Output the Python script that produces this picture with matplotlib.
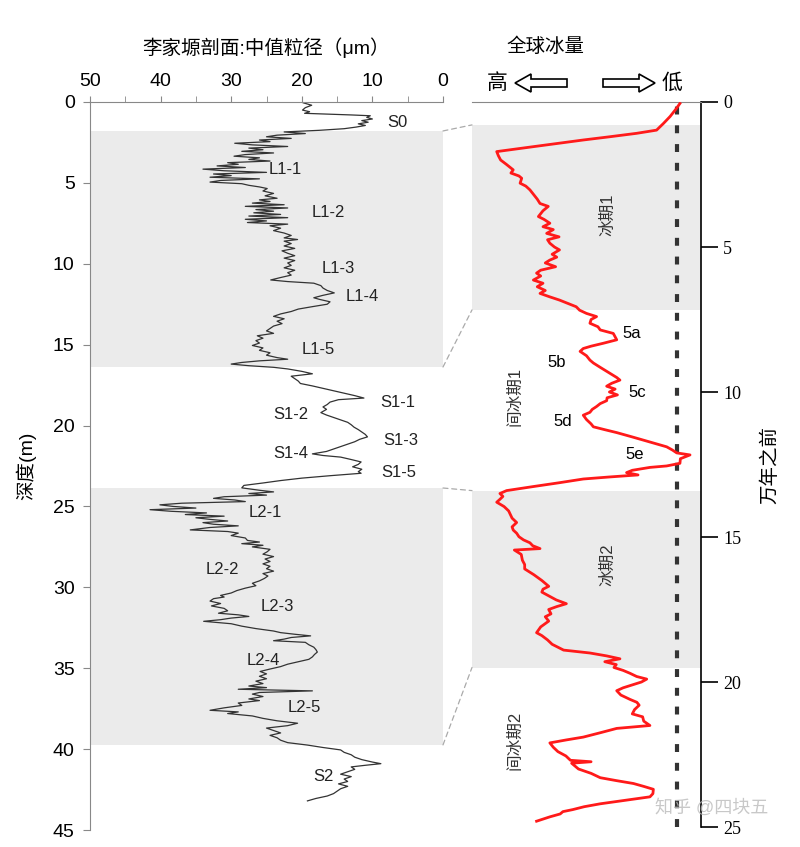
import numpy as np
import matplotlib
matplotlib.use("Agg")
from matplotlib import pyplot as plt
from matplotlib.patches import FancyArrow, ConnectionPatch

plt.rcParams["font.family"] = ["Liberation Sans", "Noto Sans CJK SC", "DejaVu Sans"]

# Li Jiayuan section: depth (m) vs median grain size (um)
depth = [0.05, 0.2, 0.35, 0.5, 0.6, 0.7, 0.8, 0.85, 0.95, 1.05, 1.15, 1.25, 1.35, 1.45, 1.55, 1.65, 1.75,
         1.85, 1.95, 2.05, 2.15, 2.25, 2.35, 2.45, 2.55, 2.65, 2.75, 2.85, 2.95, 3.05, 3.15, 3.25, 3.35, 3.45,
         3.55, 3.65, 3.75, 3.85, 3.95, 4.05, 4.15, 4.25, 4.35, 4.45, 4.55, 4.65, 4.75, 4.85, 4.95, 5.05, 5.15,
         5.25, 5.35, 5.5, 5.65, 5.8, 5.95, 6.05, 6.15, 6.25, 6.35, 6.45, 6.55, 6.65, 6.75, 6.85, 6.95, 7.05,
         7.15, 7.25, 7.35, 7.45, 7.55, 7.65, 7.8, 7.95, 8.1, 8.25, 8.4, 8.5, 8.6, 8.75, 8.9, 9.05, 9.2, 9.35,
         9.5, 9.65, 9.8, 9.95, 10.1, 10.25, 10.4, 10.55, 10.7, 10.85, 11.0, 11.1, 11.2, 11.35, 11.5, 11.65,
         11.8, 11.95, 12.1, 12.2, 12.35, 12.5, 12.65, 12.8, 12.95, 13.1, 13.25, 13.4, 13.55, 13.7, 13.85, 14.0,
         14.15, 14.3, 14.45, 14.6, 14.75, 14.9, 15.05, 15.2, 15.35, 15.5, 15.65, 15.8, 15.9, 16.0, 16.1, 16.2,
         16.3, 16.4, 16.5, 16.65, 16.8, 16.95, 17.1, 17.25, 17.4, 17.55, 17.7, 17.85, 18.0, 18.15, 18.3, 18.4,
         18.55, 18.7, 18.85, 19.0, 19.2, 19.35, 19.5, 19.65, 19.8, 19.95, 20.1, 20.25, 20.4, 20.55, 20.7,
         20.85, 21.0, 21.15, 21.3, 21.45, 21.6, 21.75, 21.85, 21.95, 22.1, 22.25, 22.4, 22.55, 22.7, 22.85,
         22.95, 23.1, 23.25, 23.4, 23.55, 23.7, 23.85, 24.0, 24.1, 24.2, 24.3, 24.4, 24.5, 24.6, 24.7, 24.8,
         24.9, 25.0, 25.1, 25.2, 25.3, 25.4, 25.5, 25.6, 25.7, 25.8, 25.9, 26.0, 26.1, 26.2, 26.3, 26.45,
         26.55, 26.65, 26.8, 26.95, 27.1, 27.2, 27.3, 27.4, 27.5, 27.65, 27.8, 27.95, 28.1, 28.25, 28.4, 28.55,
         28.7, 28.85, 29.0, 29.15, 29.3, 29.45, 29.6, 29.75, 29.9, 30.05, 30.2, 30.35, 30.5, 30.6, 30.7, 30.85,
         31.0, 31.15, 31.3, 31.45, 31.6, 31.7, 31.8, 31.9, 32.0, 32.1, 32.25, 32.4, 32.55, 32.7, 32.8, 32.9,
         33.0, 33.1, 33.2, 33.3, 33.4, 33.55, 33.7, 33.85, 34.0, 34.15, 34.3, 34.45, 34.6, 34.75, 34.9, 35.05,
         35.2, 35.35, 35.5, 35.65, 35.8, 35.95, 36.1, 36.2, 36.3, 36.4, 36.5, 36.6, 36.75, 36.9, 37.0, 37.15,
         37.3, 37.45, 37.6, 37.7, 37.8, 37.95, 38.1, 38.25, 38.4, 38.55, 38.7, 38.85, 39.0, 39.15, 39.3, 39.45,
         39.6, 39.75, 39.9, 40.05, 40.2, 40.35, 40.5, 40.65, 40.8, 40.9, 41.0, 41.1, 41.25, 41.4, 41.55, 41.7,
         41.85, 42.0, 42.15, 42.3, 42.45, 42.6, 42.75, 42.9, 43.05, 43.2]
grain = [19.8, 18.6, 19.5, 19.9, 18.9, 19.6, 13.0, 10.3, 10.8, 10.0, 11.5, 10.6, 12.0, 11.0, 12.3, 14.0, 17.5,
         22.5, 19.5, 23.5, 25.0, 21.5, 26.0, 24.5, 29.5, 27.0, 22.0, 27.5, 25.5, 28.5, 24.0, 28.0, 29.6, 26.0,
         27.5, 24.5, 30.5, 29.0, 32.0, 28.0, 34.0, 31.0, 25.0, 32.5, 30.0, 33.0, 26.0, 31.5, 33.0, 28.5, 27.5,
         26.0, 24.9, 25.5, 24.0, 25.2, 23.5, 26.0, 24.5, 27.0, 22.5, 28.0, 22.0, 26.5, 24.0, 26.8, 23.0, 27.5,
         22.0, 28.0, 25.0, 27.7, 22.0, 24.5, 23.0, 24.0, 22.5, 21.5, 22.5, 20.6, 22.5, 21.5, 22.5, 21.0, 22.8,
         22.0, 21.0, 22.5, 21.0, 22.0, 21.5, 22.5, 21.0, 22.0, 21.5, 23.0, 24.4, 22.0, 18.3, 17.3, 17.0, 16.4,
         15.4, 17.0, 18.3, 17.5, 16.0, 16.4, 18.5, 20.5, 21.5, 23.0, 24.0, 22.5, 23.5, 22.8, 24.0, 24.5,
         25.0, 24.0, 26.3, 25.5, 26.5, 26.0, 27.0, 25.5, 26.0, 24.5, 25.0, 23.5, 22.0, 26.0, 28.5, 30.0,
         27.5, 24.0, 22.0, 20.0, 18.5, 21.5, 21.0, 20.5, 20.2, 18.5, 17.0, 15.5, 14.0, 12.5, 11.2, 14.8,
         16.0, 16.4, 17.0, 16.5, 17.3, 16.5, 15.5, 14.5, 13.5, 13.0, 12.6, 12.0, 11.5, 11.0, 10.7,
         11.8, 12.5, 13.5, 14.5, 15.5, 16.5, 18.5, 17.0, 14.5, 13.0, 11.6, 12.0, 12.8, 11.5, 12.0,
         11.6, 16.0, 20.0, 23.0, 25.5, 28.2, 28.5, 26.0, 24.0, 27.5, 25.0, 31.0, 32.5, 29.5, 28.0, 37.0,
         40.1, 38.2, 35.0, 41.5, 38.5, 33.5, 36.5, 31.0, 35.0, 33.0, 30.5, 34.0, 32.5, 29.0, 33.0, 35.8,
         30.5, 29.0, 30.0, 28.0, 27.7, 26.0, 28.5, 25.5, 27.0, 24.5, 24.9, 25.5, 24.0, 25.2, 24.5, 25.5,
         24.5, 25.0, 24.0, 25.5, 24.8, 25.3, 26.0, 27.0, 26.5, 28.0, 29.2, 30.0, 31.5, 31.0, 32.5, 33.0,
         31.5, 32.8, 31.0, 30.5, 31.8, 29.0, 27.5, 30.0, 31.5, 33.9, 30.0, 28.5, 26.5, 24.0, 23.0, 21.0,
         18.75, 21.5, 22.5, 24.0, 19.5, 19.0, 18.3, 18.0, 17.8, 18.2, 18.5, 19.0, 20.5, 22.0, 23.0, 24.5,
         25.9, 25.0, 26.0, 25.0, 26.5, 25.5, 27.5, 25.0, 29.0, 18.5, 26.0, 27.0, 25.5, 27.5, 26.0, 29.0,
         28.5, 31.0, 33.0, 29.0, 30.5, 27.0, 25.5, 23.5, 20.6, 22.0, 25.0, 24.0, 23.0, 24.5, 23.5, 23.0,
         22.0, 19.2, 17.0, 14.5, 14.0, 13.0, 12.5, 11.5, 10.0, 8.8, 11.0, 13.0, 12.5, 13.5, 14.5, 13.0,
         14.0, 13.5, 14.8, 13.5, 14.5, 15.0, 15.5, 16.4, 18.0, 19.2]

# global ice volume curve: age (10^4 yr) vs relative index (left = more ice)
age = [0.05, 0.25, 0.5, 0.74, 0.97, 1.08, 1.2, 1.31, 1.42, 1.54, 1.71, 1.85, 2.0, 2.15, 2.34, 2.45, 2.55, 2.63,
       2.8, 2.9, 3.03, 3.2, 3.35, 3.5, 3.6, 3.75, 3.95, 4.05, 4.18, 4.3, 4.4, 4.53, 4.65, 4.75, 4.87, 5.0,
       5.1, 5.25, 5.35, 5.45, 5.55, 5.68, 5.8, 5.9, 6.0, 6.14, 6.25, 6.37, 6.5, 6.6, 6.72, 6.83, 6.95, 7.06,
       7.18, 7.29, 7.4, 7.5, 7.63, 7.75, 7.86, 7.98, 8.1, 8.2, 8.32, 8.42, 8.5, 8.6, 8.75, 8.9, 9.0, 9.15,
       9.36, 9.5, 9.59, 9.7, 9.8, 9.9, 10.0, 10.1, 10.2, 10.3, 10.4, 10.5, 10.6, 10.7, 10.8, 10.95, 11.1,
       11.2, 11.3, 11.4, 11.55, 11.66, 11.78, 11.89, 12.0, 12.1, 12.17, 12.3, 12.46, 12.55, 12.6, 12.7,
       12.78, 12.86, 12.93, 13.0, 13.13, 13.26, 13.4, 13.5, 13.6, 13.7, 13.8, 13.95, 14.1, 14.2, 14.35,
       14.5, 14.65, 14.76, 14.87, 14.99, 15.1, 15.2, 15.3, 15.4, 15.45, 15.6, 15.8, 15.95, 16.1, 16.3,
       16.5, 16.7, 16.8, 16.9, 17.05, 17.17, 17.3, 17.4, 17.5, 17.65, 17.75, 17.9, 18.1, 18.3, 18.4,
       18.55, 18.7, 18.9, 19.0, 19.1, 19.2, 19.3, 19.4, 19.5, 19.6, 19.7, 19.81, 19.9, 20.0, 20.1, 20.2,
       20.3, 20.45, 20.6, 20.7, 20.8, 20.95, 21.1, 21.2, 21.35, 21.5, 21.6, 21.75, 21.9, 22.0, 22.1,
       22.25, 22.4, 22.55, 22.7, 22.75, 22.8, 22.9, 23.0, 23.15, 23.3, 23.4, 23.5, 23.6, 23.7, 23.85,
       23.96, 24.1, 24.2, 24.3, 24.4, 24.47, 24.55, 24.65, 24.8]
ice = [90.8, 89.0, 86.5, 83.6, 80.6, 71.9, 60.0, 48.6, 38.0, 26.8, 10.8, 11.5, 12.5, 15.0, 18.0, 17.0, 20.5, 21.7,
       21.0, 23.5, 25.3, 27.0, 28.5, 29.7, 33.3, 31.0, 29.0, 31.5, 34.0, 31.0, 35.5, 32.6, 38.0, 33.0, 34.0, 36.0,
       38.2, 35.0, 37.0, 34.0, 32.0, 36.5, 30.0, 28.2, 30.0, 26.8, 31.0, 28.5, 32.0, 29.7, 34.0, 38.2, 42.0, 45.5,
       47.0, 50.0, 54.4, 52.0, 51.5, 55.0, 56.0, 61.7, 62.5, 63.2, 57.3, 52.0, 48.6, 47.2, 50.0, 51.5, 53.0, 56.0,
       60.3, 63.2, 64.6, 61.0, 58.8, 62.5, 60.0, 63.5, 59.0, 58.8, 56.0, 54.4, 52.5, 51.5, 48.6, 50.0, 52.0,
       53.0, 58.0, 63.2, 70.0, 74.8, 80.0, 85.0, 87.5, 89.4, 95.2, 91.0, 90.8, 85.0, 77.7, 70.0,
       67.5, 72.5, 60.0, 48.6, 38.0, 26.8, 15.1, 12.2, 13.5, 12.2, 10.8, 14.0, 16.0, 16.6, 17.5,
       19.5, 17.5, 18.0, 19.5, 20.5, 22.5, 25.3, 26.5, 29.7, 18.5, 21.5, 22.0, 23.0, 23.0, 27.0,
       30.5, 33.5, 31.0, 30.5, 34.0, 36.8, 41.2, 37.0, 33.5, 34.5, 32.0, 33.5, 30.0, 28.2, 30.5,
       33.0, 35.0, 40.0, 51.5, 58.8, 64.6, 58.0, 63.0, 62.0, 66.0, 69.0, 71.9, 76.3, 74.0, 70.0, 66.0,
       63.2, 65.0, 69.0, 72.0, 73.0, 71.0, 70.0, 74.5, 75.0, 77.7, 63.2, 56.0, 48.6, 41.0, 34.0,
       35.5, 37.5, 41.0, 43.0, 52.0, 43.5, 45.0, 46.5, 52.0, 56.0, 63.0, 70.5, 75.0, 79.2, 79.0,
       77.7, 65.0, 56.0, 49.0, 44.0, 39.7, 38.5, 34.0, 28.2]

# loess / palaeosol unit labels (grain size, depth)
unit_labels = ["S0", "L1-1", "L1-2", "L1-3", "L1-4", "L1-5", "S1-1", "S1-2", "S1-3", "S1-4", "S1-5",
               "L2-1", "L2-2", "L2-3", "L2-4", "L2-5", "S2"]
unit_x = [6.4, 22.3, 16.2, 14.9, 11.4, 17.6, 6.4, 21.6, 6.0, 21.6, 6.25, 25.1, 31.25, 23.4, 25.4, 19.7, 17.0]
unit_y = [1.24, 4.2, 6.8, 10.3, 12.05, 15.3, 18.6, 19.3, 20.9, 21.7, 22.9, 25.4, 28.9, 31.2, 34.5, 37.4, 41.7]

# glacial layers in the section (depth, m) and in the ice record (10^4 yr)
loess_bands = [(1.79, 16.38), (23.86, 39.74)]
glacial_bands = [(0.79, 7.17), (13.4, 19.5)]

mis_labels = ["5a", "5b", "5c", "5d", "5e"]
mis_x = [69.9, 37.1, 72.1, 39.7, 71.2]
mis_y = [7.97, 8.97, 10.03, 11.03, 12.17]

period_labels = ["冰期1", "间冰期1", "冰期2", "间冰期2"]
period_x = [59.0, 18.8, 59.0, 18.8]
period_y = [3.9, 10.17, 15.97, 22.0]

W, H = 800, 847
fig = plt.figure(figsize=(W / 100, H / 100), dpi=100)


def box(l, t, r, b):
    return [l / W, 1 - b / H, (r - l) / W, (b - t) / H]


band_col = "#ebebeb"

# ---- left panel: grain size
ax1 = fig.add_axes(box(90, 102, 443, 830))
for lo, hi in loess_bands:
    ax1.axhspan(lo, hi, color=band_col, lw=0, zorder=0)
ax1.plot(grain, depth, color="#333333", lw=0.9, zorder=2)
for s, x, y in zip(unit_labels, unit_x, unit_y):
    ax1.text(x, y, s, ha="center", va="center", fontsize=12, color="#222222")
ax1.set_xlim(50, 0)
ax1.set_ylim(45, 0)
ax1.xaxis.tick_top()
ax1.xaxis.set_label_position("top")
ax1.set_xticks(np.arange(0, 51, 10))
ax1.set_xticks(np.arange(5, 50, 10), minor=True)
ax1.set_yticks(np.arange(0, 46, 5))
ax1.tick_params(axis="x", which="both", direction="out", length=4, color="#888888", labelsize=14, pad=5)
ax1.tick_params(axis="y", direction="out", length=5, color="#888888", labelsize=14, pad=6)
for k in ["right", "bottom"]:
    ax1.spines[k].set_visible(False)
for k in ["left", "top"]:
    ax1.spines[k].set_color("#888888")
ax1.set_xlabel("李家塬剖面:中值粒径（μm）", fontsize=14, labelpad=13)
ax1.set_ylabel("深度(m)", fontsize=14, labelpad=12)

# ---- right panel: global ice volume
ax2 = fig.add_axes(box(472, 102, 701, 827))
for lo, hi in glacial_bands:
    ax2.axhspan(lo, hi, color=band_col, lw=0, zorder=0)
ax2.plot(ice, age, color="#ff1a1a", lw=2, zorder=3)
ax2.axvline(89.5, color="#333333", lw=3, dashes=(1.9, 2.6), zorder=2)
for s, x, y in zip(mis_labels, mis_x, mis_y):
    ax2.text(x, y, s, ha="center", va="center", fontsize=12, color="black")
for s, x, y in zip(period_labels, period_x, period_y):
    ax2.text(x, y, s, ha="center", va="center", fontsize=12, color="#333333", rotation=90)
ax2.set_xlim(0, 100)
ax2.set_ylim(25, 0)
ax2.set_xticks([])
ax2.yaxis.tick_right()
ax2.yaxis.set_label_position("right")
ax2.set_yticks(np.arange(0, 26, 5))
ax2.tick_params(axis="y", direction="out", length=12, width=1.2, labelsize=13, pad=4)
for t in ax2.get_yticklabels():
    t.set_fontfamily("Liberation Serif")
for k in ["left", "bottom"]:
    ax2.spines[k].set_visible(False)
ax2.spines["top"].set_color("#888888")
ax2.spines["right"].set_linewidth(1.2)
ax2.set_ylabel("万年之前", fontsize=14, labelpad=14)

# dashed links between the two panels
for (a0, a1), (b0, b1) in zip(loess_bands, glacial_bands):
    for ya, yb in [(a0, b0), (a1, b1)]:
        con = ConnectionPatch(xyA=(0, ya), coordsA=ax1.transData, xyB=(0, yb), coordsB=ax2.transData,
                              color="#aaaaaa", lw=0.9, linestyle=(0, (4, 3)))
        fig.add_artist(con)

# header of the right panel
fig.text(545 / W, 1 - 47 / H, "全球冰量", ha="center", va="center", fontsize=14)
fig.text(497 / W, 1 - 83 / H, "高", ha="center", va="center", fontsize=15)
fig.text(672 / W, 1 - 83 / H, "低", ha="center", va="center", fontsize=15)
yy = (H - 83) / 100
fig.add_artist(FancyArrow(5.67, yy, -0.52, 0, width=0.08, head_width=0.18, head_length=0.16,
                          length_includes_head=True, transform=fig.dpi_scale_trans,
                          facecolor="white", edgecolor="black", lw=1.2))
fig.add_artist(FancyArrow(6.03, yy, 0.52, 0, width=0.08, head_width=0.18, head_length=0.16,
                          length_includes_head=True, transform=fig.dpi_scale_trans,
                          facecolor="white", edgecolor="black", lw=1.2))

fig.text(712 / W, 1 - 808 / H, "知乎 @四块五", ha="center", va="center", fontsize=13,
         color="#bbbbbb", alpha=0.8)

fig.savefig("out.png", dpi=100)
